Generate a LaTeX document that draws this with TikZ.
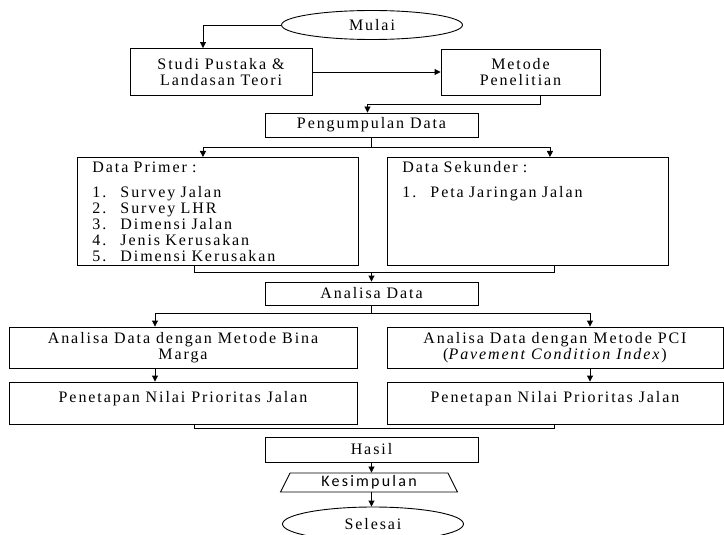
\documentclass[tikz,border=0pt]{standalone}
\usepackage{fontspec}
\setmainfont{Liberation Serif}[LetterSpace=12]
\newfontfamily\calfont{Carlito}[LetterSpace=14]
\usetikzlibrary{arrows.meta, shapes.geometric}

\newcommand{\itm}[2]{\makebox[28pt][l]{#1}#2}

\begin{document}
\begin{tikzpicture}[x=1pt, y=-1pt, >={Triangle[length=6pt,width=6pt]}, line width=0.9pt,
  font=\fontsize{16}{16}\selectfont,
  box/.style={rectangle, draw, inner sep=0pt, align=center},
  listbox/.style={rectangle, draw, anchor=north west, align=left, inner xsep=15pt, inner ysep=0pt,
    text width=251pt, text height=15pt, text depth=93pt},
  topbox/.style={rectangle, draw, inner sep=0pt, align=center, text height=20pt, text depth=22pt},
  term/.style={ellipse, draw, inner sep=0pt, minimum width=181pt}]
  \useasboundingbox (0,0) rectangle (724,535);

  \node[term, minimum height=29pt]                            (mulai)    at (372,25)      {Mulai};
  \node[box, minimum width=182pt, minimum height=47pt]        (studi)    at (221,72)      {Studi Pustaka \&\\Landasan Teori};
  \node[box, minimum width=159pt, minimum height=46pt]        (metode)   at (520.5,72)    {Metode\\Penelitian};
  \node[box, minimum width=213pt, minimum height=24pt]        (kumpul)   at (371.5,125)   {Pengumpulan Data};
  \node[listbox]                                              (primer)   at (77,157)      {Data Primer :\\[9pt]
        \itm{1.}{Survey Jalan}\\ \itm{2.}{Survey LHR}\\ \itm{3.}{Dimensi Jalan}\\
        \itm{4.}{Jenis Kerusakan}\\ \itm{5.}{Dimensi Kerusakan}};
  \node[listbox]                                              (sekunder) at (387,157)     {Data Sekunder :\\[9pt]
        \itm{1.}{Peta Jaringan Jalan}};
  \node[box, minimum width=213pt, minimum height=23pt]        (analisa)  at (371.5,293.5) {Analisa Data};
  \node[box, minimum width=348pt, minimum height=41pt]        (bina)     at (183,347.5)   {Analisa Data dengan Metode Bina\\Marga};
  \node[box, minimum width=336pt, minimum height=41pt]        (pci)      at (555,347.5)   {Analisa Data dengan Metode PCI\\(\textit{Pavement Condition Index})};
  \node[topbox, minimum width=348pt]                          (penl)     at (183,403)     {Penetapan Nilai Prioritas Jalan};
  \node[topbox, minimum width=336pt]                          (penr)     at (555,403)     {Penetapan Nilai Prioritas Jalan};
  \node[box, minimum width=213pt, minimum height=25pt]        (hasil)    at (371.5,449.5) {Hasil};
  \node[trapezium, draw, inner sep=0pt, trapezium left angle=55, trapezium right angle=55,
        trapezium stretches body, minimum width=177pt, minimum height=19pt]
                                                              (simpul)   at (369,482.5)   {\calfont Kesimpulan};
  \node[term, minimum height=34pt]                            (selesai)  at (373,524)     {Selesai};

  % alur utama
  \draw[->] (mulai.west) -| ([xshift=-18pt]studi.north);
  \path[->] (studi) edge (metode);
  \draw[->] ([xshift=20pt]metode.south) -- ++(0,9) -| ([xshift=-4pt]kumpul.north);
  \draw (kumpul.south) -- ++(0,10) coordinate (c1);
  \draw[->] (c1) -| ([xshift=-15pt]primer.north);
  \draw[->] (c1) -| ([xshift=22pt]sekunder.north);
  \draw ([xshift=-23.5pt]primer.south) -- ++(0,7) coordinate (c2) -| ([xshift=26.5pt]sekunder.south);
  \draw[->] (c2 -| analisa.north) -- (analisa.north);
  \draw (analisa.south) -- ++(0,8) coordinate (c3);
  \draw[->] (c3) -| ([xshift=-28pt]bina.north);
  \draw[->] (c3) -| ([xshift=35pt]pci.north);
  \path[->] ([xshift=-28pt]bina.south) edge ([xshift=-28pt]penl.north)
            ([xshift=35pt]pci.south)   edge ([xshift=35pt]penr.north);
  \draw ([xshift=11pt]penl.south) -- ++(0,4) -| ([xshift=-1pt]penr.south);
  \draw[->] (hasil.south) -- (hasil.south |- simpul.north);
  \draw[->] (hasil.south |- simpul.south) -- (hasil.south |- selesai.north);

\end{tikzpicture}
\end{document}
